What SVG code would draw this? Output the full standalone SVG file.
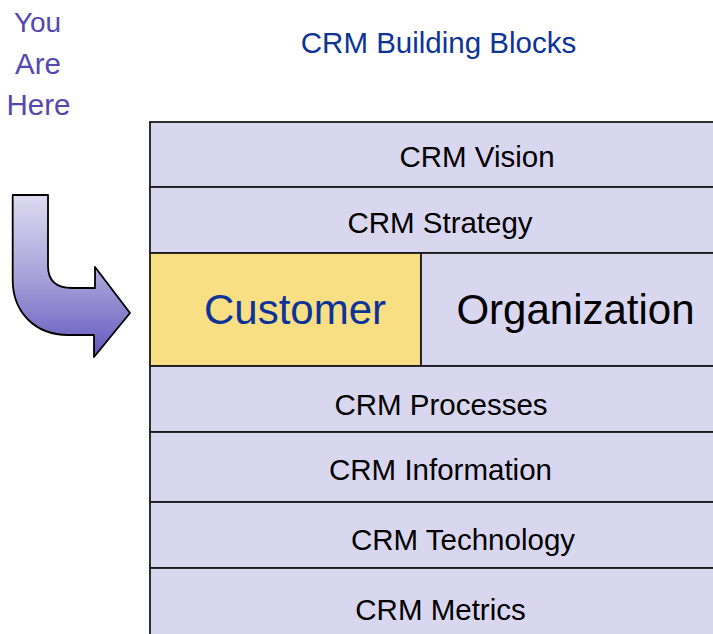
<svg xmlns="http://www.w3.org/2000/svg" width="713" height="634" viewBox="0 0 713 634">
<defs>
<linearGradient id="ag" x1="0" y1="0" x2="0" y2="1">
<stop offset="0" stop-color="#dedbf1"/>
<stop offset="0.5" stop-color="#a9a2da"/>
<stop offset="1" stop-color="#6358bd"/>
</linearGradient>
<style>
.blk{fill:#d9d6f0;stroke:#1a1a1a;stroke-width:1.8}
.yel{fill:#f9df83;stroke:#1a1a1a;stroke-width:1.8}
text{font-family:"Liberation Sans",Arial,sans-serif;font-size:29.5px;text-anchor:middle}
.dark{fill:#000}
.big{font-size:42px}
.here{fill:#5547b0}
.title{fill:#0d3399}
</style>
</defs>
<rect width="713" height="634" fill="#fff"/>
<g id="youarehere">
<text class="here" x="37.5" y="32" style="font-size:28px">You</text>
<text class="here" x="38" y="74">Are</text>
<text class="here" x="38.5" y="115">Here</text>
</g>
<g id="title"><text class="title" x="438.5" y="53">CRM Building Blocks</text></g>
<g id="arrow">
<path d="M12.7,195 L48,195 L48,266 C48,280 56,288 72,288 L95,288 L95,267 L130,313 L94,357 L94,335 L68,335 C35,335 12.7,312 12.7,280 Z" fill="url(#ag)" stroke="#000" stroke-width="1.8" stroke-linejoin="round"/>
</g>
<g id="vision"><rect class="blk" x="150" y="122" width="580" height="65"/><text class="dark" x="477" y="167">CRM Vision</text></g>
<g id="strategy"><rect class="blk" x="150" y="187" width="580" height="66"/><text class="dark" x="440" y="233">CRM Strategy</text></g>
<g id="customer"><rect class="yel" x="150" y="253" width="271" height="113"/><text class="big" fill="#0d3399" x="295" y="324">Customer</text></g>
<g id="organization"><rect class="blk" x="421" y="253" width="309" height="113"/><text class="dark big" x="575.5" y="324">Organization</text></g>
<g id="processes"><rect class="blk" x="150" y="366" width="580" height="66"/><text class="dark" x="441" y="415">CRM Processes</text></g>
<g id="information"><rect class="blk" x="150" y="432" width="580" height="70"/><text class="dark" x="440.5" y="480">CRM Information</text></g>
<g id="technology"><rect class="blk" x="150" y="502" width="580" height="66"/><text class="dark" x="463" y="550">CRM Technology</text></g>
<g id="metrics"><rect class="blk" x="150" y="568" width="580" height="80"/><text class="dark" x="440.5" y="620">CRM Metrics</text></g>
<g id="connectors"/>
</svg>
